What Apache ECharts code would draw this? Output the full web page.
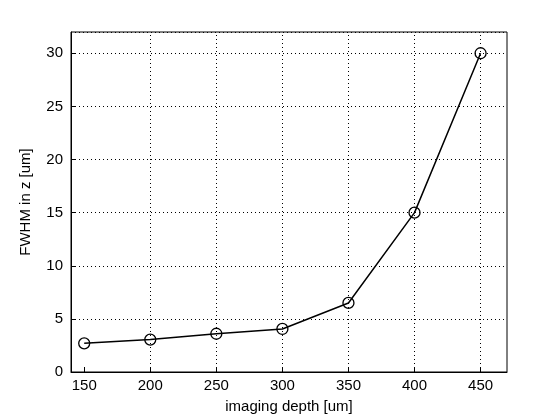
<!DOCTYPE html>
<html><head><meta charset="utf-8">
<script src="https://cdn.jsdelivr.net/npm/echarts@6/dist/echarts.min.js"></script>
<style>html,body{margin:0;background:#fff}#c{width:560px;height:420px}</style>
</head><body><div id="c"></div>
<script>
const depths = [150, 200, 250, 300, 350, 400, 450];
const fwhm = [2.7, 3.05, 3.6, 4.05, 6.5, 15, 30];
const xTicks = [150, 200, 250, 300, 350, 400, 450];
const chart = echarts.init(document.getElementById('c'));
const font = 'Liberation Sans';
chart.setOption({
  animation: false,
  grid: {left: 71, right: 53, top: 32, bottom: 48, show: true, borderColor: '#000', borderWidth: 1, backgroundColor: '#fff'},
  xAxis: {
    type: 'value', min: 140, max: 470, name: 'imaging depth [um]', nameLocation: 'middle', nameGap: 27,
    nameTextStyle: {fontFamily: font, fontSize: 15, color: '#000'},
    axisLine: {lineStyle: {color: '#000'}},
    axisTick: {inside: true, length: 5, customValues: xTicks, lineStyle: {color: '#000'}},
    axisLabel: {customValues: xTicks, fontFamily: font, fontSize: 15, color: '#000', margin: 6},
    splitLine: {show: false}
  },
  yAxis: {
    type: 'value', min: 0, max: 32, interval: 5, name: 'FWHM in z [um]', nameLocation: 'middle', nameGap: 38,
    nameTextStyle: {fontFamily: font, fontSize: 15, color: '#000'},
    axisLine: {lineStyle: {color: '#000'}},
    axisTick: {inside: true, length: 5, lineStyle: {color: '#000'}},
    axisLabel: {fontFamily: font, fontSize: 15, color: '#000', showMaxLabel: false},
    splitLine: {show: true, lineStyle: {color: '#000', type: [1, 3], width: 1}}
  },
  series: [{
    type: 'line', data: depths.map((d, i) => [d, fwhm[i]]),
    symbol: 'circle', symbolSize: 11,
    itemStyle: {color: 'transparent', borderColor: '#000', borderWidth: 1.3},
    lineStyle: {color: '#000', width: 1.5},
    markLine: {
      silent: true, symbol: 'none', label: {show: false},
      lineStyle: {color: '#000', type: [1, 3], width: 1},
      data: xTicks.slice(1).map(v => ({xAxis: v}))
    }
  }]
});
</script></body></html>
